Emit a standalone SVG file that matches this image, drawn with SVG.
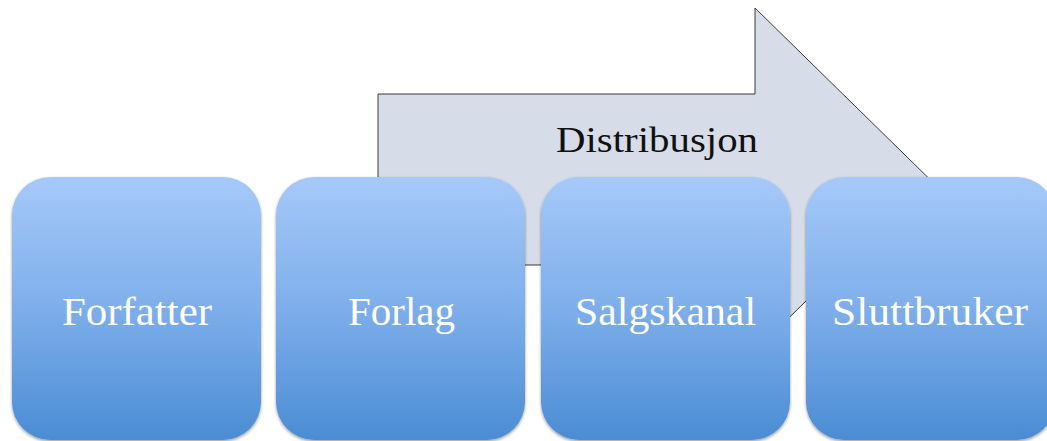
<svg xmlns="http://www.w3.org/2000/svg" width="1047" height="441" viewBox="0 0 1047 441">
  <defs>
    <linearGradient id="boxFill" x1="0" y1="0" x2="0" y2="1">
      <stop offset="0" stop-color="#a6c9f9"/>
      <stop offset="0.5" stop-color="#7eaeea"/>
      <stop offset="1" stop-color="#4b8cd4"/>
    </linearGradient>
    <filter id="soft" x="-5%" y="-5%" width="110%" height="110%">
      <feDropShadow dx="0" dy="1.5" stdDeviation="1.5" flood-color="#000" flood-opacity="0.4"/>
    </filter>
  </defs>
  <style>
    .box { fill: url(#boxFill); filter: url(#soft); }
    .label { font-family: "Liberation Serif", serif; font-size: 40px; fill: #ffffff; text-anchor: middle; }
    .arrow { fill: #d6dde9; stroke: #3a3a3a; stroke-width: 1; }
    .arrow-label { font-family: "Liberation Serif", serif; font-size: 36px; fill: #111111; text-anchor: middle; }
  </style>

  <!-- distribution arrow behind the chain -->
  <g id="connectors">
    <polygon class="arrow" points="378,94 755,94 755,8 930,179.5 755,351 755,265 378,265"/>
    <text class="arrow-label" x="657" y="152" textLength="202" lengthAdjust="spacingAndGlyphs">Distribusjon</text>
  </g>

  <g id="forfatter">
    <rect class="box" x="12" y="177" width="249" height="263" rx="38"/>
    <text class="label" x="137" y="325" textLength="150" lengthAdjust="spacingAndGlyphs">Forfatter</text>
  </g>
  <g id="forlag">
    <rect class="box" x="276" y="177" width="249" height="263" rx="38"/>
    <text class="label" x="401.5" y="325" textLength="107" lengthAdjust="spacingAndGlyphs">Forlag</text>
  </g>
  <g id="salgskanal">
    <rect class="box" x="541" y="177" width="249" height="263" rx="38"/>
    <text class="label" x="665.5" y="325" textLength="181" lengthAdjust="spacingAndGlyphs">Salgskanal</text>
  </g>
  <g id="sluttbruker">
    <rect class="box" x="806" y="177" width="249" height="263" rx="38"/>
    <text class="label" x="930" y="325" textLength="196" lengthAdjust="spacingAndGlyphs">Sluttbruker</text>
  </g>
</svg>
